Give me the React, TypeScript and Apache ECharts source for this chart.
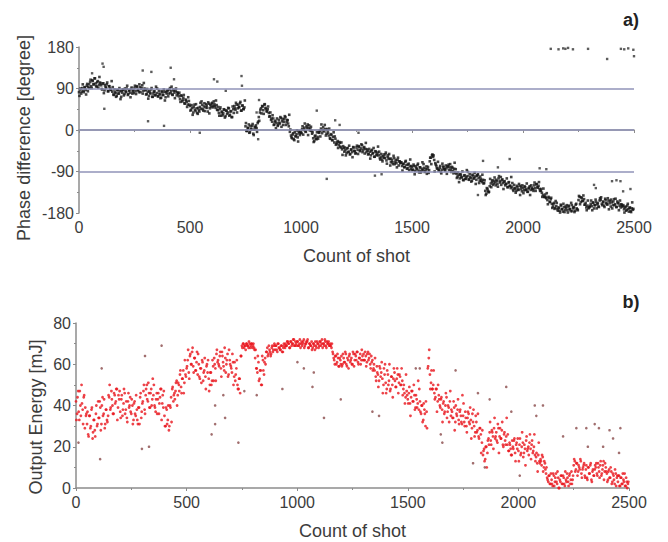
import React, { useEffect, useRef } from "react";
import * as echarts from "echarts";

// Shot spacing of the band samples below; the second set of samples sits 2 shots later
const STEP = 5;
const OFFSET2 = 2;

// Panel a) phase difference [degree], samples at shots 0,5,...,2495
const phaseBand: number[] = [
  82, 88, 79, 91, 85, 93, 87, 96, 84, 99,
  104, 95, 108, 99, 112, 101, 94, 106, 98, 103,
  97, 88, 101, 86, 93, 99, 84, 95, 90, 87,
  83, 77, 88, 80, 74, 86, 79, 84, 72, 81,
  87, 78, 84, 90, 76, 85, 81, 89, 79, 86,
  91, 84, 95, 87, 82, 93, 89, 97, 85, 90,
  86, 78, 83, 74, 81, 88, 72, 79, 84, 76,
  80, 73, 85, 77, 70, 82, 76, 83, 71, 79,
  86, 79, 91, 84, 77, 88, 81, 85, 75, 80,
  73, 67, 75, 62, 70, 58, 66, 61, 55, 63,
  52, 44, 48, 38, 55, 41, 47, 35, 43, 50,
  46, 55, 42, 58, 49, 53, 40, 57, 47, 51,
  59, 52, 56, 48, 54, 43, 37, 45, 31, 40,
  36, 44, 30, 42, 38, 47, 33, 41, 28, 45,
  52, 44, 55, 47, 50, 58, 42, 53, 46, 49,
  8, -2, 5, 12, -5, 3, 9, -8, 1, 6,
  4, 15, 28, 38, 47, 52, 43, 55, 48, 41,
  45, 37, 30, 22, 18, 25, 12, 20, 15, 9,
  22, 14, 26, 19, 11, 24, 28, 17, 21, 8,
  -4, -12, -18, -7, -22, -14, -9, -16, -3, -11,
  -6, 2, -10, 5, -3, 8, 12, 4, -1, 7,
  -8, -18, -24, -12, -20, -15, -5, -2, 3, -7,
  6, -3, 2, -8, -1, -12, -18, -9, -22, -15,
  -27, -19, -30, -24, -33, -28, -38, -42, -35, -47,
  -44, -50, -39, -47, -53, -42, -48, -37, -45, -51,
  -38, -43, -35, -46, -40, -33, -44, -37, -41, -48,
  -45, -52, -47, -55, -43, -50, -58, -46, -53, -49,
  -55, -61, -52, -64, -57, -60, -53, -66, -59, -62,
  -63, -70, -66, -74, -61, -69, -72, -65, -77, -68,
  -71, -78, -74, -81, -69, -76, -83, -73, -79, -85,
  -80, -86, -78, -89, -83, -76, -88, -81, -92, -84,
  -87, -82, -90, -79, -85, -93, -68, -60, -55, -58,
  -65, -72, -78, -84, -88, -82, -91, -86, -79, -85,
  -88, -83, -78, -75, -81, -86, -80, -89, -84, -92,
  -95, -101, -98, -105, -97, -103, -108, -99, -106, -102,
  -100, -107, -96, -104, -110, -99, -105, -101, -108, -98,
  -104, -110, -106, -113, -108, -115, -132, -138, -128, -135,
  -122, -116, -112, -119, -110, -114, -108, -117, -105, -111,
  -102, -109, -115, -112, -120, -117, -124, -114, -121, -126,
  -123, -129, -119, -127, -132, -124, -130, -121, -128, -133,
  -126, -131, -124, -129, -134, -127, -122, -130, -125, -128,
  -120, -126, -118, -124, -121, -128, -132, -136, -141, -145,
  -140, -148, -152, -145, -156, -150, -160, -166, -158, -169,
  -165, -172, -168, -175, -162, -171, -177, -167, -173, -169,
  -174, -166, -171, -176, -163, -170, -168, -175, -160, -172,
  -152, -145, -156, -148, -154, -150, -162, -168, -164, -170,
  -167, -160, -165, -158, -170, -163, -156, -161, -166, -153,
  -151, -160, -155, -164, -149, -158, -162, -153, -159, -166,
  -157, -163, -150, -161, -167, -155, -159, -164, -168, -162,
  -166, -172, -168, -175, -164, -171, -169, -176, -170, -173,
];

// Panel a) second set of samples, at shots 2,7,...,2497
const phaseBand2: number[] = [
  74, 90, 83, 99, 82, 92, 77, 100, 93, 91,
  109, 91, 106, 99, 112, 95, 104, 92, 115, 101,
  89, 101, 80, 97, 91, 103, 84, 95, 87, 106,
  93, 76, 82, 72, 87, 79, 91, 67, 85, 88,
  75, 90, 82, 96, 78, 87, 71, 92, 84, 80,
  96, 78, 93, 86, 99, 82, 91, 79, 102, 88,
  77, 89, 68, 85, 79, 91, 72, 83, 75, 94,
  90, 73, 79, 69, 84, 76, 88, 64, 82, 85,
  73, 88, 80, 94, 76, 85, 69, 90, 82, 78,
  81, 61, 74, 65, 76, 57, 64, 50, 71, 55,
  42, 54, 33, 50, 44, 56, 37, 48, 40, 59,
  62, 45, 51, 41, 56, 48, 60, 36, 54, 57,
  49, 62, 52, 64, 44, 50, 31, 49, 38, 32,
  45, 27, 42, 35, 48, 31, 40, 28, 51, 37,
  47, 59, 38, 55, 49, 61, 42, 53, 45, 64,
  15, -2, 4, -6, 9, 1, 13, -11, 7, 10,
  -4, 18, 20, 44, 36, 51, 35, 56, 46, 40,
  51, 29, 38, 25, 32, 11, 18, 4, 25, 11,
  16, 28, 7, 24, 18, 30, 11, 22, 14, 33,
  1, -16, -10, -20, -5, -13, -1, -25, -7, -4,
  -7, 8, 0, 14, -4, 5, -11, 10, 2, -2,
  -5, -26, -14, -19, -5, -19, -6, -14, 12, -1,
  0, 11, -12, 2, -6, 3, -19, -11, -22, -5,
  -14, -32, -27, -39, -26, -36, -27, -54, -39, -38,
  -55, -40, -48, -34, -52, -43, -59, -38, -46, -50,
  -34, -52, -37, -44, -31, -48, -39, -51, -28, -42,
  -53, -41, -62, -45, -51, -39, -58, -47, -55, -36,
  -47, -64, -58, -68, -53, -61, -49, -73, -55, -52,
  -77, -62, -70, -56, -74, -65, -81, -60, -68, -72,
  -70, -88, -73, -80, -67, -84, -75, -87, -64, -78,
  -87, -75, -96, -79, -85, -73, -92, -81, -89, -70,
  -74, -91, -85, -95, -80, -87, -60, -74, -53, -55,
  -90, -75, -83, -69, -87, -78, -94, -73, -81, -85,
  -77, -95, -80, -87, -74, -91, -82, -94, -71, -85,
  -104, -92, -113, -96, -102, -90, -109, -98, -106, -87,
  -91, -108, -102, -112, -97, -105, -93, -117, -99, -96,
  -115, -101, -110, -97, -116, -109, -141, -126, -132, -134,
  -106, -124, -109, -116, -103, -120, -111, -123, -100, -114,
  -119, -107, -128, -111, -117, -105, -124, -113, -121, -102,
  -115, -132, -126, -136, -121, -129, -117, -141, -123, -120,
  -137, -122, -130, -116, -134, -125, -141, -120, -128, -132,
  -114, -132, -117, -125, -113, -132, -128, -145, -127, -145,
  -146, -137, -161, -147, -156, -147, -169, -161, -171, -154,
  -158, -175, -169, -179, -164, -172, -160, -178, -166, -163,
  -179, -164, -172, -158, -176, -167, -178, -162, -170, -174,
  -143, -161, -146, -154, -142, -162, -158, -174, -153, -168,
  -165, -153, -174, -157, -163, -151, -170, -159, -167, -148,
  -146, -163, -157, -167, -152, -160, -148, -172, -154, -151,
  -170, -155, -163, -149, -167, -158, -174, -153, -161, -165,
  -163, -179, -166, -173, -160, -177, -168, -178, -157, -171,
];

// Panel a) isolated shots [shot, degree] (incl. wrapped points near +180)
const phaseStray: [number, number][] = [
  [106, 144], [111, 137], [59, 123], [114, 46], [287, 129], [326, 126], [413, 135],
  [428, 110], [311, 19], [383, 9], [544, -6], [608, 110], [623, 105], [661, 85],
  [732, 117], [734, 96], [800, 38], [807, -20], [811, 65], [1071, 42], [1154, 21],
  [1174, 11], [1259, -6], [1116, -106], [1333, -99], [1363, -96], [1940, -63],
  [1820, -67], [1797, -141], [2075, -83], [2105, -85], [1887, -81], [2401, -111],
  [2421, -109], [2320, -119], [2328, -126], [2451, -133], [2484, -128], [2439, -111],
  [2125, 176], [2160, 175], [2181, 177], [2191, 176], [2203, 178], [2225, 175],
  [2293, 176], [2379, 154], [2441, 176], [2456, 175], [2474, 177], [2497, 174], [2500, 160],
];

// Panel b) output energy [mJ], samples at shots 0,5,...,2495
const energyBand: number[] = [
  42, 36, 47, 33, 40, 50, 38, 44, 29, 35,
  31, 26, 35, 29, 38, 24, 33, 28, 36, 30,
  42, 34, 39, 31, 44, 36, 29, 38, 33, 35,
  44, 38, 47, 40, 36, 45, 42, 48, 39, 43,
  37, 43, 35, 41, 46, 38, 34, 42, 39, 44,
  36, 40, 33, 42, 35, 38, 31, 39, 44, 34,
  41, 47, 38, 45, 50, 42, 46, 39, 48, 43,
  45, 40, 37, 46, 43, 36, 44, 48, 41, 39,
  35, 30, 38, 33, 28, 40, 44, 48, 42, 46,
  47, 52, 45, 50, 55, 49, 53, 57, 51, 55,
  58, 62, 56, 64, 60, 66, 59, 63, 57, 61,
  55, 60, 53, 58, 62, 52, 57, 54, 59, 56,
  53, 50, 56, 52, 59, 63, 58, 65, 61, 60,
  64, 58, 66, 61, 57, 63, 60, 65, 55, 62,
  59, 56, 61, 54, 52, 58, 50, 48, 53, 64,
  69, 70, 68, 69, 70, 69, 68, 70, 69, 70,
  69, 68, 63, 58, 56, 61, 53, 57, 50, 62,
  55, 63, 66, 68, 65, 67, 64, 68, 66, 69,
  67, 69, 66, 70, 68, 67, 69, 66, 70, 68,
  69, 71, 70, 68, 71, 69, 70, 72, 69, 70,
  71, 69, 70, 68, 71, 70, 72, 69, 70, 71,
  68, 70, 69, 71, 68, 70, 67, 69, 71, 70,
  69, 71, 70, 68, 70, 72, 69, 71, 70, 69,
  70, 68, 66, 63, 60, 64, 61, 63, 59, 62,
  64, 60, 63, 61, 65, 59, 62, 64, 61, 63,
  60, 65, 62, 64, 66, 61, 63, 65, 62, 64,
  65, 62, 64, 61, 66, 63, 60, 64, 62, 58,
  57, 54, 59, 55, 52, 58, 56, 53, 50, 55,
  51, 48, 55, 52, 47, 54, 50, 53, 56, 49,
  53, 55, 51, 54, 50, 52, 48, 46, 44, 47,
  43, 46, 41, 44, 47, 42, 45, 39, 43, 41,
  38, 42, 36, 40, 33, 38, 30, 37, 58, 63,
  55, 51, 48, 50, 46, 44, 48, 42, 45, 40,
  43, 38, 41, 36, 40, 44, 37, 39, 42, 35,
  37, 34, 39, 32, 36, 38, 33, 37, 35, 31,
  35, 32, 37, 30, 34, 36, 31, 33, 29, 32,
  30, 27, 32, 28, 25, 29, 26, 22, 16, 19,
  14, 20, 17, 24, 27, 23, 28, 25, 29, 24,
  27, 22, 29, 25, 24, 28, 21, 26, 23, 25,
  21, 18, 22, 19, 16, 20, 23, 17, 21, 19,
  18, 21, 16, 20, 22, 17, 19, 23, 18, 20,
  22, 19, 21, 17, 20, 16, 15, 12, 16, 13,
  14, 11, 15, 10, 12, 7, 5, 3, 6, 2,
  4, 1, 6, 3, 7, 2, 5, 0, 3, 6,
  2, 5, 1, 4, 7, 3, 6, 2, 8, 4,
  11, 13, 9, 12, 8, 10, 14, 7, 9, 11,
  6, 9, 5, 10, 7, 11, 4, 8, 6, 9,
  10, 7, 12, 8, 11, 6, 9, 13, 8, 10,
  7, 4, 9, 5, 8, 3, 6, 2, 7, 5,
  3, 6, 1, 5, 2, 4, 7, 1, 3, 2,
];

// Panel b) second set of samples, at shots 2,7,...,2497
const energyBand2: number[] = [
  33, 44, 37, 47, 35, 41, 31, 45, 39, 36,
  37, 25, 35, 30, 39, 27, 33, 25, 40, 31,
  34, 42, 28, 40, 35, 43, 31, 38, 32, 45,
  50, 39, 43, 36, 46, 41, 48, 33, 45, 47,
  34, 45, 38, 48, 36, 42, 32, 46, 40, 37,
  43, 31, 41, 36, 45, 33, 39, 31, 46, 37,
  42, 50, 36, 48, 43, 51, 39, 46, 40, 53,
  50, 39, 43, 36, 46, 41, 48, 33, 45, 47,
  30, 39, 31, 40, 30, 39, 32, 49, 45, 43,
  51, 40, 51, 47, 57, 46, 53, 46, 62, 54,
  59, 67, 53, 65, 60, 68, 56, 63, 57, 66,
  65, 54, 58, 51, 61, 56, 63, 48, 60, 62,
  47, 56, 50, 62, 52, 60, 52, 67, 62, 59,
  66, 54, 64, 59, 68, 56, 62, 54, 67, 60,
  58, 65, 50, 61, 55, 62, 48, 53, 46, 64,
  68, 70, 69, 67, 70, 69, 71, 68, 70, 68,
  70, 67, 67, 58, 64, 52, 57, 50, 64, 57,
  61, 60, 66, 64, 69, 66, 65, 69, 67, 70,
  69, 67, 70, 68, 67, 69, 66, 68, 69, 70,
  69, 71, 70, 68, 71, 70, 72, 69, 71, 69,
  71, 69, 72, 70, 69, 71, 68, 70, 71, 72,
  68, 70, 69, 67, 70, 69, 71, 68, 70, 68,
  71, 69, 72, 70, 69, 71, 68, 70, 71, 69,
  69, 70, 65, 62, 64, 60, 65, 59, 63, 60,
  59, 65, 61, 66, 60, 63, 58, 65, 62, 60,
  66, 59, 65, 62, 66, 60, 63, 60, 67, 62,
  62, 66, 59, 65, 62, 65, 58, 61, 57, 60,
  63, 52, 56, 49, 59, 54, 61, 46, 58, 60,
  46, 57, 50, 60, 48, 54, 44, 58, 52, 49,
  58, 46, 55, 50, 58, 45, 50, 41, 55, 45,
  41, 49, 35, 47, 42, 50, 38, 45, 39, 52,
  48, 37, 40, 32, 41, 36, 42, 29, 59, 67,
  48, 57, 48, 57, 43, 48, 37, 50, 43, 39,
  44, 32, 42, 37, 46, 34, 40, 32, 47, 38,
  34, 42, 28, 40, 35, 43, 31, 38, 32, 45,
  41, 30, 34, 27, 37, 32, 39, 24, 36, 38,
  25, 35, 27, 36, 24, 29, 17, 28, 18, 13,
  20, 10, 23, 21, 32, 21, 27, 19, 34, 25,
  23, 31, 17, 29, 24, 32, 20, 27, 21, 34,
  26, 18, 21, 16, 23, 19, 24, 13, 22, 24,
  13, 24, 17, 27, 15, 21, 11, 25, 19, 16,
  26, 14, 23, 18, 26, 13, 17, 8, 22, 12,
  13, 16, 8, 13, 9, 10, 4, 6, 2, 7,
  2, 7, 1, 5, 3, 8, 0, 4, 6, 2,
  6, 2, 8, 3, 5, 1, 7, 4, 2, 6,
  14, 8, 12, 6, 11, 9, 13, 5, 10, 12,
  5, 11, 4, 10, 7, 12, 3, 9, 6, 11,
  12, 6, 10, 5, 13, 7, 11, 4, 12, 8,
  3, 8, 5, 10, 2, 7, 4, 9, 1, 6,
  6, 1, 5, 2, 7, 3, 1, 5, 0, 3,
];

// Panel b) isolated shots [shot, mJ]
const energyStray: [number, number][] = [
  [387, 69], [312, 64], [116, 58], [109, 14], [298, 19], [330, 20], [11, 22], [734, 22],
  [613, 26], [666, 45], [629, 40], [629, 31], [674, 34], [817, 45], [761, 47], [1001, 61],
  [1030, 58], [1075, 56], [933, 48], [1121, 34], [1197, 43], [1069, 49], [1340, 37],
  [1370, 35], [1536, 58], [1554, 58], [1649, 26], [1656, 22], [1716, 57], [1945, 49],
  [1817, 46], [1870, 43], [2074, 40], [2111, 40], [2081, 35], [1968, 37], [2262, 29],
  [2307, 29], [2345, 31], [2364, 29], [2412, 28], [2461, 29], [2428, 24], [2383, 20],
  [2455, 17], [2314, 20], [1795, 12], [1848, 10], [2006, 6], [2202, 25],
];

const phaseTicks = [-180, -90, 0, 90, 180];
const phaseGridLines = [90, 0, -90];
const energyTicks = [0, 20, 40, 60, 80];
const shotTicks = [0, 500, 1000, 1500, 2000, 2500];

const xTitle = "Count of shot";
const yTitleA = "Phase difference [degree]";
const yTitleB = "Output Energy [mJ]";

const TEXT = "#3c3c3c";
const AXIS = "#8c8c8c";
const FONT = "'Liberation Sans', Arial, sans-serif";

const plain = (v: number) => String(v);

function makeX(gridIndex: number) {
  return {
    type: "value" as const,
    gridIndex,
    min: shotTicks[0],
    max: shotTicks[shotTicks.length - 1],
    interval: shotTicks[1] - shotTicks[0],
    name: xTitle,
    nameLocation: "middle" as const,
    nameGap: 34,
    nameTextStyle: { color: TEXT, fontSize: 18, fontFamily: FONT },
    axisLine: { lineStyle: { color: AXIS, width: 1.5 } },
    axisTick: { show: true, length: 3, lineStyle: { color: AXIS } },
    minorTick: { show: true, splitNumber: 2, length: 2, lineStyle: { color: AXIS } },
    axisLabel: { color: TEXT, fontSize: 16, fontFamily: FONT, margin: 6, formatter: plain },
    splitLine: { show: false },
  };
}

function makeY(gridIndex: number, ticks: number[]) {
  return {
    type: "value" as const,
    gridIndex,
    min: ticks[0],
    max: ticks[ticks.length - 1],
    interval: ticks[1] - ticks[0],
    axisLine: { show: true, lineStyle: { color: AXIS, width: 1.5 } },
    axisTick: { show: true, length: 3, lineStyle: { color: AXIS } },
    minorTick: { show: true, splitNumber: 2, length: 2, lineStyle: { color: AXIS } },
    axisLabel: { color: TEXT, fontSize: 16, fontFamily: FONT, margin: 5, formatter: plain },
    splitLine: { show: false },
  };
}

export default function App() {
  const ref = useRef<HTMLDivElement>(null);
  useEffect(() => {
    document.body.style.margin = "0";
    if (!ref.current) return;
    const chart = echarts.init(ref.current, undefined, { renderer: "svg" });
    const phaseData = [
      ...phaseBand.map((v, i) => [i * STEP, v]),
      ...phaseBand2.map((v, i) => [i * STEP + OFFSET2, v]),
    ];
    const energyData = [
      ...energyBand.map((v, i) => [i * STEP, v]),
      ...energyBand2.map((v, i) => [i * STEP + OFFSET2, v]),
    ];
    chart.setOption({
      animation: false,
      backgroundColor: "#ffffff",
      grid: [
        { left: 79, top: 47, width: 555, height: 166 },
        { left: 76, top: 323, width: 553, height: 165 },
      ],
      xAxis: [makeX(0), makeX(1)],
      yAxis: [makeY(0, phaseTicks), makeY(1, energyTicks)],
      graphic: [
        {
          type: "text",
          x: 24,
          y: 138,
          rotation: Math.PI / 2,
          style: { text: yTitleA, fill: TEXT, font: `18px ${FONT}`, align: "center", verticalAlign: "middle" },
        },
        {
          type: "text",
          x: 36,
          y: 417,
          rotation: Math.PI / 2,
          style: { text: yTitleB, fill: TEXT, font: `18px ${FONT}`, align: "center", verticalAlign: "middle" },
        },
        {
          type: "text",
          x: 631,
          y: 20,
          style: { text: "a)", fill: "#222", font: `bold 18px ${FONT}`, align: "center", verticalAlign: "middle" },
        },
        {
          type: "text",
          x: 631,
          y: 302,
          style: { text: "b)", fill: "#222", font: `bold 18px ${FONT}`, align: "center", verticalAlign: "middle" },
        },
      ],
      series: [
        {
          type: "line",
          xAxisIndex: 0,
          yAxisIndex: 0,
          data: [],
          z: 1,
          markLine: {
            silent: true,
            symbol: ["none", "none"],
            label: { show: false },
            lineStyle: { color: "#9093b8", width: 1.5, type: "solid" },
            data: phaseGridLines.map((v) => ({ yAxis: v })),
          },
        },
        {
          type: "scatter",
          xAxisIndex: 0,
          yAxisIndex: 0,
          z: 3,
          symbol: "rect",
          symbolSize: 2.6,
          itemStyle: { color: "#151515" },
          data: phaseData,
        },
        {
          type: "scatter",
          xAxisIndex: 0,
          yAxisIndex: 0,
          z: 3,
          symbol: "rect",
          symbolSize: 2.4,
          itemStyle: { color: "#333333" },
          data: phaseStray,
        },
        {
          type: "scatter",
          xAxisIndex: 1,
          yAxisIndex: 1,
          z: 3,
          symbol: "circle",
          symbolSize: 2.8,
          itemStyle: { color: "#e8141c" },
          data: energyData,
        },
        {
          type: "scatter",
          xAxisIndex: 1,
          yAxisIndex: 1,
          z: 3,
          symbol: "circle",
          symbolSize: 2.6,
          itemStyle: { color: "#8a4a4a" },
          data: energyStray,
        },
      ],
    });
    return () => chart.dispose();
  }, []);
  return <div ref={ref} style={{ width: 668, height: 542 }} />;
}
